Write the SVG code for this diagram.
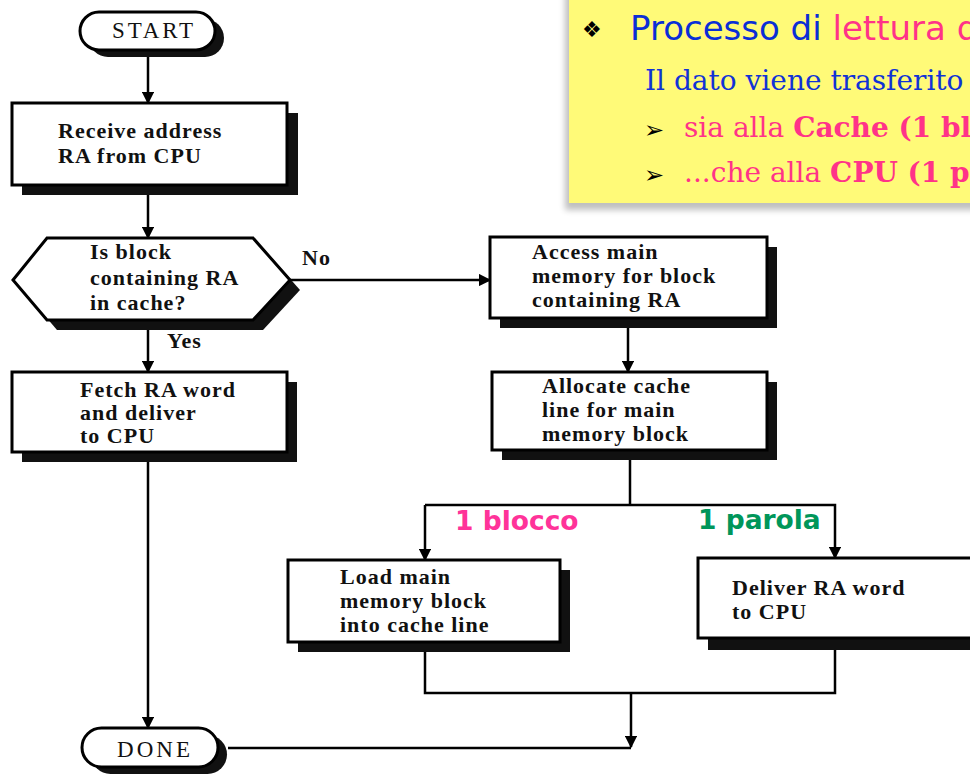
<svg xmlns="http://www.w3.org/2000/svg" width="970" height="776" viewBox="0 0 970 776">
<defs>
<style>
.box{fill:#fff;stroke:#000;stroke-width:3}
.sh{fill:#111}
.t{font-family:"Liberation Serif","Times New Roman",serif;font-size:22px;font-weight:bold;letter-spacing:1px;fill:#111}
.term{font-family:"Liberation Serif","Times New Roman",serif;font-size:23px;fill:#111}
.c{fill:none;stroke:#000;stroke-width:2.5}
.lbl{font-family:"DejaVu Sans",Verdana,sans-serif;font-size:26.5px;font-weight:bold}
.ser{font-family:"DejaVu Serif","Liberation Serif",serif;font-size:28px}
.bul{font-family:"DejaVu Sans",sans-serif;fill:#000}
</style>
<marker id="ah" viewBox="0 0 10 10" refX="9" refY="5" markerWidth="5" markerHeight="5" orient="auto" markerUnits="strokeWidth">
<path d="M0,0 L10,5 L0,10 z" fill="#000"/>
</marker>
<filter id="blur" x="-10%" y="-10%" width="120%" height="130%"><feGaussianBlur stdDeviation="3"/></filter>
</defs>
<rect width="970" height="776" fill="#fff"/>

<g id="callout">
<rect x="565" y="-10" width="420" height="220" fill="#000" opacity="0.25" filter="url(#blur)"/>
<rect x="569" y="-5" width="410" height="208" fill="#FFFA78"/>
<text x="582" y="37" class="bul" font-size="22">❖</text>
<text x="630" y="40" font-family="DejaVu Sans,Verdana,sans-serif" font-size="34" fill="#0A2ED6">Processo di <tspan fill="#FF3388">lettura d</tspan></text>
<text x="645" y="90" class="ser" fill="#1133D6">Il dato viene trasferito</text>
<text x="644" y="138" class="bul" font-size="24">➢</text>
<text x="684" y="137" class="ser" fill="#FF3388">sia alla <tspan font-weight="bold">Cache (1 bl</tspan></text>
<text x="644" y="183" class="bul" font-size="24">➢</text>
<text x="684" y="182" class="ser" fill="#FF3388">...che alla <tspan font-weight="bold">CPU (1 p</tspan></text>
</g>

<g id="connectors">
<line class="c" x1="148" y1="50" x2="148" y2="103" marker-end="url(#ah)"/>
<line class="c" x1="148" y1="195" x2="148" y2="238" marker-end="url(#ah)"/>
<line class="c" x1="148" y1="330" x2="148" y2="372" marker-end="url(#ah)"/>
<line class="c" x1="290" y1="280" x2="490" y2="280" marker-end="url(#ah)"/>
<line class="c" x1="148" y1="462" x2="148" y2="728" marker-end="url(#ah)"/>
<line class="c" x1="628" y1="328" x2="628" y2="372" marker-end="url(#ah)"/>
<polyline class="c" points="630,460 630,505"/>
<polyline class="c" points="425,505 835,505 835,558" marker-end="url(#ah)"/>
<line class="c" x1="425" y1="505" x2="425" y2="560" marker-end="url(#ah)"/>
<polyline class="c" points="425,652 425,693 835,693 835,650"/>
<line class="c" x1="631" y1="693" x2="631" y2="747" marker-end="url(#ah)"/>
<line class="c" x1="228" y1="748" x2="631" y2="748"/>
<text x="302" y="265" class="t" font-size="21">No</text>
<text x="167" y="348" class="t" font-size="21">Yes</text>
<text x="455" y="530" class="lbl" fill="#FF3399">1 blocco</text>
<text x="698" y="529" class="lbl" fill="#00965A">1 parola</text>
</g>

<g id="start">
<rect class="sh" x="89" y="19" width="135" height="38" rx="19"/>
<rect class="box" x="80" y="12" width="135" height="38" rx="19"/>
<text class="term" x="112" y="38" textLength="81">START</text>
</g>

<g id="receive">
<rect class="sh" x="22" y="113" width="276" height="82"/>
<rect class="box" x="12" y="103" width="275" height="82"/>
<text class="t" x="58" y="138">Receive address</text>
<text class="t" x="58" y="163">RA from CPU</text>
</g>

<g id="decision">
<polygon class="sh" points="23,290 57,248 263,248 300,290 263,330 57,330"/>
<polygon class="box" points="13,280 47,238 253,238 290,280 253,320 47,320"/>
<text class="t" x="90" y="259">Is block</text>
<text class="t" x="90" y="285">containing RA</text>
<text class="t" x="90" y="310">in cache?</text>
</g>

<g id="fetch">
<rect class="sh" x="22" y="382" width="275" height="80"/>
<rect class="box" x="12" y="372" width="275" height="80"/>
<text class="t" x="80" y="397">Fetch RA word</text>
<text class="t" x="80" y="420">and deliver</text>
<text class="t" x="80" y="443">to CPU</text>
</g>

<g id="access">
<rect class="sh" x="500" y="247" width="277" height="81"/>
<rect class="box" x="490" y="237" width="277" height="81"/>
<text class="t" x="532" y="259">Access main</text>
<text class="t" x="532" y="283">memory for block</text>
<text class="t" x="532" y="307">containing RA</text>
</g>

<g id="allocate">
<rect class="sh" x="502" y="382" width="275" height="78"/>
<rect class="box" x="492" y="372" width="275" height="78"/>
<text class="t" x="542" y="393">Allocate cache</text>
<text class="t" x="542" y="417">line for main</text>
<text class="t" x="542" y="441">memory block</text>
</g>

<g id="load">
<rect class="sh" x="298" y="570" width="272" height="82"/>
<rect class="box" x="288" y="560" width="272" height="82"/>
<text class="t" x="340" y="584">Load main</text>
<text class="t" x="340" y="608">memory block</text>
<text class="t" x="340" y="632">into cache line</text>
</g>

<g id="deliver">
<rect class="sh" x="708" y="570" width="290" height="80"/>
<rect class="box" x="698" y="558" width="290" height="80"/>
<text class="t" x="732" y="595">Deliver RA word</text>
<text class="t" x="732" y="619">to CPU</text>
</g>

<g id="done">
<rect class="sh" x="91" y="735" width="136" height="39" rx="19.5"/>
<rect class="box" x="82" y="728" width="136" height="39" rx="19.5"/>
<text class="term" x="117" y="757" textLength="73">DONE</text>
</g>
</svg>
